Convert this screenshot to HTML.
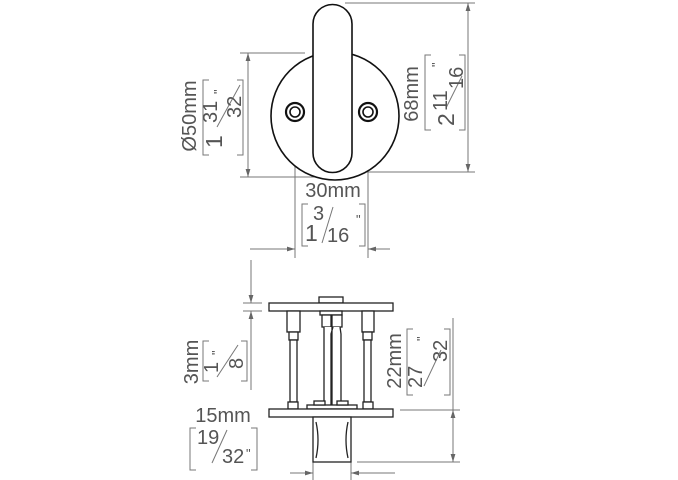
<!DOCTYPE html>
<html><head><style>
html,body{margin:0;padding:0;background:#fff;}
svg{display:block;}
text{font-family:"Liberation Sans",sans-serif;fill:#555;}
</style></head><body>
<svg width="678" height="480" viewBox="0 0 678 480" xmlns="http://www.w3.org/2000/svg">
<defs>
<marker id="a" viewBox="0 0 10 10" refX="10" refY="5" markerWidth="8" markerHeight="8" orient="auto-start-reverse" markerUnits="userSpaceOnUse"><path d="M0,2 L10,5 L0,8 z" fill="#666"/></marker>
</defs>
<g stroke="#777" stroke-width="1" fill="none">
<line x1="240" y1="53" x2="305" y2="53"/>
<line x1="240" y1="177" x2="345" y2="177"/>
<line x1="248" y1="53" x2="248" y2="177" marker-start="url(#a)" marker-end="url(#a)"/>
<line x1="345" y1="3" x2="475" y2="3"/>
<line x1="345" y1="172" x2="475" y2="172"/>
<line x1="468" y1="3" x2="468" y2="172" marker-start="url(#a)" marker-end="url(#a)"/>
<line x1="295" y1="115" x2="295" y2="258"/>
<line x1="368" y1="115" x2="368" y2="258"/>
<line x1="250" y1="249" x2="295" y2="249" marker-end="url(#a)"/>
<line x1="390" y1="249" x2="368" y2="249" marker-end="url(#a)"/>
<path d="M209,80 H203 V155 H209 M237,80 H243 V155 H237"/>
<path d="M431,55 H425 V130 H431 M459,55 H465 V130 H459"/>
<path d="M308,204 H302 V246 H308 M359,204 H365 V246 H359"/>
<path d="M209,341 H203 V381 H209 M241,341 H247 V381 H241"/>
<path d="M413,329 H407 V395 H413 M444,329 H450 V395 H444"/>
<path d="M196,428 H190 V470 H196 M251,428 H257 V470 H251"/>
<line x1="217" y1="127" x2="240" y2="85"/>
<line x1="446" y1="108" x2="462" y2="76"/>
<line x1="322" y1="243" x2="333" y2="207"/>
<line x1="217" y1="377" x2="238" y2="345"/>
<line x1="424" y1="386" x2="441" y2="350"/>
<line x1="212" y1="463" x2="227" y2="430"/>
<line x1="251" y1="260" x2="251" y2="303" marker-end="url(#a)"/>
<line x1="251" y1="390" x2="251" y2="311" marker-end="url(#a)"/>
<line x1="243" y1="303" x2="262" y2="303"/>
<line x1="243" y1="311" x2="262" y2="311"/>
<line x1="400" y1="410" x2="460" y2="410"/>
<line x1="357" y1="462" x2="460" y2="462"/>
<line x1="453" y1="318" x2="453" y2="410" />
<line x1="453" y1="440" x2="453" y2="410" marker-end="url(#a)"/>
<line x1="453" y1="440" x2="453" y2="462" marker-end="url(#a)"/>
<line x1="313" y1="462" x2="313" y2="480"/>
<line x1="351" y1="462" x2="351" y2="480"/>
<line x1="290" y1="473" x2="313" y2="473" marker-end="url(#a)"/>
<line x1="395" y1="473" x2="351" y2="473" marker-end="url(#a)"/>
</g>
<g stroke="#111" stroke-width="1.6" fill="#fff">
<circle cx="335" cy="116" r="64"/>
<path d="M313,24 A19.5,19.5 0 0 1 352,24 V153 A19.5,19.5 0 0 1 313,153 Z"/>
<circle cx="295" cy="112" r="9" stroke-width="2.2"/>
<circle cx="295" cy="112" r="5"/>
<circle cx="368" cy="112" r="9" stroke-width="2.2"/>
<circle cx="368" cy="112" r="5"/>
</g>
<g stroke="#222" stroke-width="1.3" fill="#fff">
<rect x="319" y="297" width="24" height="6"/>
<rect x="269" y="303" width="124" height="8"/>
<rect x="287" y="311" width="13" height="21"/>
<rect x="289" y="332" width="9" height="8"/>
<rect x="290" y="340" width="7" height="62"/>
<rect x="288" y="402" width="10" height="7"/>
<rect x="362" y="311" width="12" height="21"/>
<rect x="363" y="332" width="9" height="8"/>
<rect x="364" y="340" width="7" height="62"/>
<rect x="363" y="402" width="10" height="7"/>
<rect x="320" y="311" width="22" height="4"/>
<rect x="322" y="315" width="9" height="12"/>
<rect x="332" y="315" width="10" height="12"/>
<path d="M324,327 V406 H332 V327 M333,327 L331,334 V406 H341 V334 L340,327"/>
<rect x="307" y="405" width="50" height="4"/>
<rect x="314" y="401" width="11" height="4"/>
<rect x="337" y="401" width="11" height="4"/>
<rect x="269" y="409" width="124" height="8"/>
<rect x="313" y="417" width="38" height="45"/>
<path d="M316,422 Q320,440 316,458 M348,422 Q344,440 348,458" fill="none"/>
</g>
<g font-size="20">
<text transform="translate(196,116) rotate(-90)" text-anchor="middle">Ø50mm</text>
<text transform="translate(418,94) rotate(-90)" text-anchor="middle">68mm</text>
<text x="333" y="197" text-anchor="middle">30mm</text>
<text transform="translate(198,362) rotate(-90)" text-anchor="middle">3mm</text>
<text transform="translate(401,361) rotate(-90)" text-anchor="middle">22mm</text>
<text x="223" y="422" text-anchor="middle">15mm</text>

<text transform="translate(222,148) rotate(-90)" font-size="23">1</text>
<text transform="translate(217,123) rotate(-90)">31</text>
<text transform="translate(241,118) rotate(-90)">32</text>
<text transform="translate(223,94) rotate(-90)" font-size="13">"</text>

<text transform="translate(454,126) rotate(-90)" font-size="23">2</text>
<text transform="translate(447,111) rotate(-90)">11</text>
<text transform="translate(463,89) rotate(-90)">16</text>
<text transform="translate(441,67) rotate(-90)" font-size="13">"</text>

<text x="305" y="241" font-size="23">1</text>
<text x="313" y="220">3</text>
<text x="327" y="242">16</text>
<text x="356" y="224" font-size="13">"</text>

<text transform="translate(218,373) rotate(-90)">1</text>
<text transform="translate(243,369) rotate(-90)">8</text>
<text transform="translate(221,355) rotate(-90)" font-size="13">"</text>

<text transform="translate(422,388) rotate(-90)">27</text>
<text transform="translate(447,362) rotate(-90)">32</text>
<text transform="translate(426,341) rotate(-90)" font-size="13">"</text>

<text x="197" y="444">19</text>
<text x="222" y="463">32</text>
<text x="246" y="458" font-size="13">"</text>
</g>
</svg>
</body></html>
